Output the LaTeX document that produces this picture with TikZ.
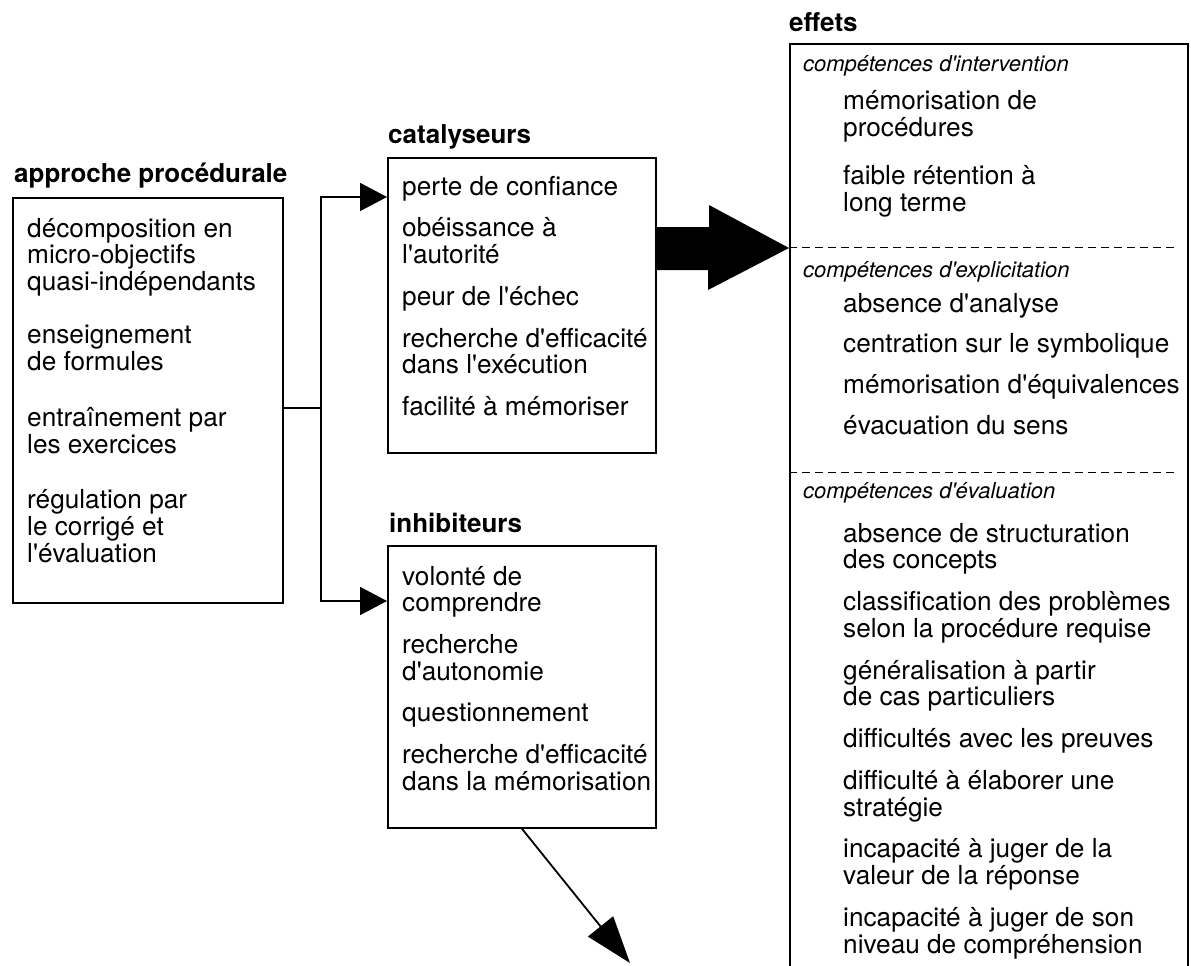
\documentclass[tikz,border=0pt]{standalone}
\usepackage{fontspec}
\setmainfont{TeX Gyre Heros}[Ligatures=TeXOff]
\usetikzlibrary{arrows.meta}

% one list of lines, first baseline on the node's base
\newcommand\itemlist[1]{\begin{tabular}[t]{@{}l@{}}#1\end{tabular}}

\begin{document}
\begin{tikzpicture}[x=1pt,y=-1pt,
  frame/.style={draw, line width=1.8pt, inner sep=0pt, anchor=north west},
  heading/.style={anchor=base west, inner sep=0pt,
    font=\fontsize{26}{26}\selectfont\bfseries},
  body/.style={anchor=base west, inner sep=0pt,
    font=\fontsize{26.2}{25.5}\selectfont},
  subhead/.style={anchor=base west, inner sep=0pt,
    font=\fontsize{22}{22}\selectfont\itshape},
  link/.style={line width=1.8pt},
  smalltip/.style={-{Triangle[length=27pt,width=28pt]}},
  bigtip/.style={-{Triangle[length=47pt,width=32pt]}},
  divider/.style={line width=1pt, dash pattern=on 8pt off 5pt},
]
\useasboundingbox (0,0) rectangle (1191,966);

% ---- boxes ----
\node[frame, minimum width=270pt, minimum height=405pt] (proc) at (12,197) {};
\node[frame, minimum width=268pt, minimum height=295pt] (cat) at (387,157) {};
\node[frame, minimum width=268pt, minimum height=282pt] (inh) at (387,545) {};
\begin{scope}
  \clip (0,0) rectangle (1191,966);
  \node[frame, minimum width=398pt, minimum height=960pt] (eff) at (789,43) {};
\end{scope}

% ---- headings ----
\node[heading] (tproc) at (14,182) {approche procédurale};
\node[heading] (tcat) at (388,143) {catalyseurs};
\node[heading] (tinh) at (389,532) {inhibiteurs};
\node[heading] (teff) at (789,32) {effets};

% ---- approche procédurale ----
\node[body] (lproc) at (27,237) {\itemlist{décomposition en\\ micro-objectifs\\
  quasi-indépendants\\[27pt] enseignement\\ de formules\\[29pt]
  entraînement par\\ les exercices\\[29pt] régulation par\\ le corrigé et\\
  l'évaluation}};

% ---- catalyseurs ----
\node[body] (lcat) at (402,195) {\itemlist{perte de confiance\\[15pt]
  obéissance à\\ l'autorité\\[15pt] peur de l'échec\\[15pt]
  recherche d'efficacité\\ dans l'exécution\\[15pt] facilité à mémoriser}};

% ---- inhibiteurs ----
\node[body] (linh) at (402,585) {\itemlist{volonté de\\ comprendre\\[15pt]
  recherche\\ d'autonomie\\[15pt] questionnement\\[15pt]
  recherche d'efficacité\\ dans la mémorisation}};

% ---- effets ----
\node[subhead] (s1) at (803,71) {compétences d'intervention};
\node[body] (e1) at (843,110) {\itemlist{mémorisation de\\ procédures\\[21pt]
  faible rétention à\\ long terme}};
\node[subhead] (s2) at (803,277) {compétences d'explicitation};
\node[body] (e2) at (843,312) {\itemlist{absence d'analyse\\[14pt]
  centration sur le symbolique\\[14pt] mémorisation d'équivalences\\[14pt]
  évacuation du sens}};
\node[subhead] (s3) at (803,498) {compétences d'évaluation};
\node[body] (e3) at (843,542) {\itemlist{absence de structuration\\ des concepts\\[15pt]
  classification des problèmes\\ selon la procédure requise\\[15pt]
  généralisation à partir\\ de cas particuliers\\[15pt]
  difficultés avec les preuves\\[15pt]
  difficulté à élaborer une\\ stratégie\\[15pt]
  incapacité à juger de la\\ valeur de la réponse\\[15pt]
  incapacité à juger de son\\ niveau de compréhension}};

% section dividers inside the effets box
\draw[divider] ([yshift=-204pt]eff.north west) -- ++(387,0);
\draw[divider] ([yshift=-429pt]eff.north west) -- ++(387,0);

% ---- connectors ----
\coordinate (split) at (321,408);
\draw[link] ([yshift=-211pt]proc.north east) -- (split);
\draw[link, smalltip] (split) |- ([yshift=-40pt]cat.north west);
\draw[link, smalltip] (split) |- ([yshift=-56pt]inh.north west);

% broad arrow from catalyseurs into effets
\coordinate (broadtip) at ([yshift=-205pt]eff.north west);
\fill (broadtip) -- ++(-80,-43) -- ++(0,22) -- (cat.north east |- 0,227)
  -- (cat.north east |- 0,270) -- (708,270) -- (708,290) -- cycle;

% arrow leaving inhibiteurs
\coordinate (away) at (630,963);
\draw[link, bigtip] ([xshift=135pt]inh.south west) -- (away);
\end{tikzpicture}
\end{document}
